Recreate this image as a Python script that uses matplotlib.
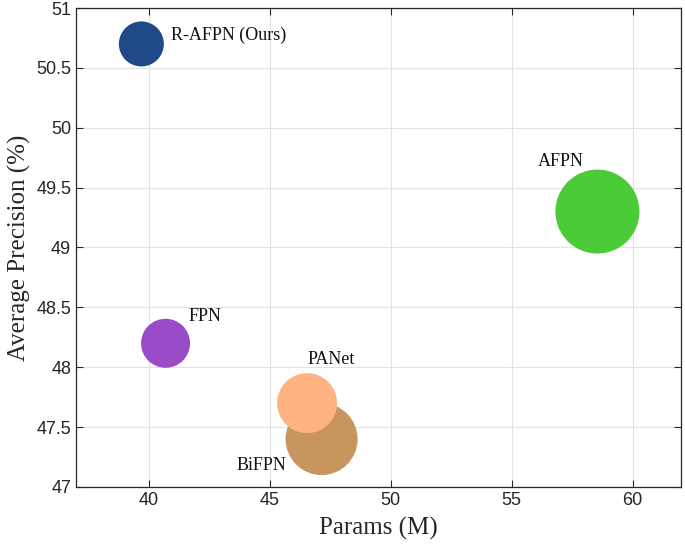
import matplotlib
matplotlib.use("Agg")
import matplotlib.pyplot as plt

methods = ["R-AFPN (Ours)", "FPN", "BiFPN", "PANet", "AFPN"]
params = [39.7, 40.7, 47.15, 46.55, 58.55]
ap = [50.7, 48.2, 47.4, 47.7, 49.3]
bubble_diam_px = [45, 49, 72, 60, 84]
colors = ["#1F4A87", "#9A4BC8", "#C9955F", "#FFB380", "#4CCB38"]
label_offsets = [(30, 9), (23, 27), (-85, -26), (0, 44), (-60, 50)]

x_ticks = [40, 45, 50, 55, 60]
y_ticks = [47, 47.5, 48, 48.5, 49, 49.5, 50, 50.5, 51]

fig = plt.figure(figsize=(6.85, 5.52), dpi=100)
ax = fig.add_axes([0.111, 0.1178, 0.883, 0.8677])

sizes = [(d * 72 / 100) ** 2 for d in bubble_diam_px]
for m, x, y, s, c, off in zip(methods, params, ap, sizes, colors, label_offsets):
    ax.scatter([x], [y], s=s, c=c, edgecolors="none", zorder=3)
    ax.annotate(m, (x, y), xytext=off, textcoords="offset pixels",
                fontsize=13, family="Liberation Serif", color="#111111",
                va="center", ha="left", zorder=4)

ax.set_xlim(37, 62)
ax.set_ylim(47, 51)
ax.set_xticks(x_ticks)
ax.set_yticks(y_ticks)
ax.set_xticklabels([f"{v:g}" for v in x_ticks], family="Liberation Sans", fontsize=13, color="#262626")
ax.set_yticklabels([f"{v:g}" for v in y_ticks], family="Liberation Sans", fontsize=13, color="#262626")
ax.grid(True, color="#e3e3e3", linewidth=0.8, zorder=0)
ax.set_axisbelow(True)
ax.tick_params(direction="in", top=True, right=True, length=5, width=0.8, color="#262626")
for sp in ax.spines.values():
    sp.set_color("#262626")
    sp.set_linewidth(0.9)

ax.set_xlabel("Params (M)", family="Liberation Serif", fontsize=18, color="#262626", labelpad=6)
ax.set_ylabel("Average Precision (%)", family="Liberation Serif", fontsize=18, color="#262626", labelpad=4)

fig.savefig("out.png", dpi=100)
